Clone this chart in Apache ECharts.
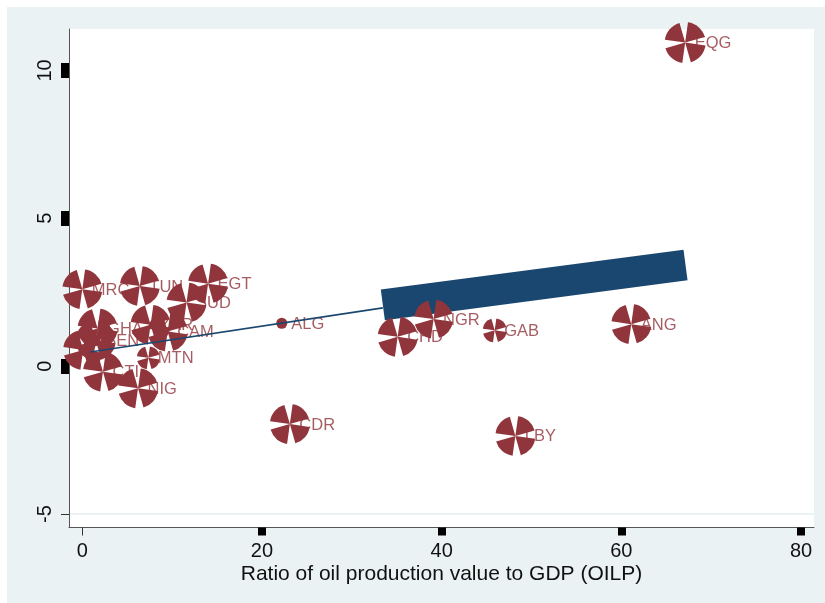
<!DOCTYPE html>
<html>
<head>
<meta charset="utf-8">
<script src="https://cdn.jsdelivr.net/npm/echarts@6/dist/echarts.min.js"></script>
<style>
  html, body { margin: 0; padding: 0; background: #ffffff; }
  #chart { width: 825px; height: 603px; }
</style>
</head>
<body>
<div id="chart"></div>
<script>
// Country codes and their values (one observation near the origin carries no code)
const countries = ['EQG', 'ANG', 'LBY', 'GAB', 'NGR', 'CHD', 'ALG', 'CDR',
  'MRC', 'TUN', 'EGT', 'SUD', 'GHA', '', 'BEN', 'CAM', 'ZAR', 'MTN', 'CTI', 'NIG'];
// Ratio of oil production value to GDP (OILP)
const oilp = [67.1, 61.1, 48.2, 45.9, 39.1, 35.1, 22.2, 23.1,
  0.0, 6.4, 14.0, 11.6, 1.7, 0.1, 1.5, 9.5, 7.6, 7.35, 2.3, 6.2];
// Outcome on the vertical axis
const growth = [10.94, 1.42, -2.36, 1.21, 1.59, 0.99, 1.45, -1.96,
  2.60, 2.71, 2.79, 2.15, 1.27, 0.55, 0.87, 1.17, 1.40, 0.28, -0.19, -0.75];
// Analytic weights of the observations
const weights = [105, 100, 100, 36, 95, 100, 7.6, 100,
  100, 100, 100, 100, 100, 100, 100, 100, 100, 33, 100, 100];

// Fitted line: thin part and heavy part
const fitThinX = [0.9, 33.45];
const fitThinY = [0.48, 1.97];
const fitHeavyX = [33.45, 67.14];
const fitHeavyY = [2.07, 3.42];

// Axis ticks
const xTicks = [0, 20, 40, 60, 80];
const yTicks = [-5, 0, 5, 10];

const maroon = '#90353b';
const navy = '#1a476f';
const bluishGray = '#eaf2f3';
const fontFamily = '"Liberation Sans", Arial, sans-serif';

const points = countries.map((c, i) => ({ name: c, value: [oilp[i], growth[i], weights[i]] }));

// Weighted marker: a disc cut into four petals by wedges meeting at its centre
const PETAL_GAP = 24 * Math.PI / 180;
const PETAL_ROT = -4 * Math.PI / 180;
function renderPetals(params, api) {
  const c = api.coord([api.value(0), api.value(1)]);
  const r = Math.sqrt(api.value(2)) * 2;
  if (r < 7.5) {
    return { type: 'circle', shape: { cx: c[0], cy: c[1], r }, style: { fill: maroon } };
  }
  const children = [];
  for (let i = 0; i < 4; i++) {
    const a0 = PETAL_ROT + i * Math.PI / 2 + PETAL_GAP / 2;
    children.push({
      type: 'sector',
      shape: { cx: c[0], cy: c[1], r0: 0, r, startAngle: a0, endAngle: a0 + Math.PI / 2 - PETAL_GAP, clockwise: true },
      style: { fill: maroon }
    });
  }
  return { type: 'group', children };
}

const X_MIN = -1.48, X_MAX = 81.44, Y_MIN = -5.456, Y_MAX = 11.40;

const baseX = {
  type: 'value', min: X_MIN, max: X_MAX,
  splitLine: { show: false }
};
const baseY = {
  type: 'value', min: Y_MIN, max: Y_MAX
};

const chart = echarts.init(document.getElementById('chart'), null, { renderer: 'canvas' });
chart.setOption({
  animation: false,
  backgroundColor: '#ffffff',
  graphic: [{
    type: 'rect', z: -10, silent: true,
    shape: { x: 7, y: 7, width: 818, height: 596 },
    style: { fill: bluishGray }
  }],
  grid: {
    left: 69, top: 29, right: 11, bottom: 75.5,
    show: true, backgroundColor: '#ffffff', borderWidth: 0
  },
  xAxis: [
    Object.assign({}, baseX, {
      position: 'bottom',
      axisLine: { show: true, onZero: false, lineStyle: { color: '#555555', width: 1 } },
      axisTick: { show: true, customValues: [0], length: 8, lineStyle: { color: '#333333', width: 1 } },
      axisLabel: { customValues: xTicks, margin: 14, color: '#111111', fontSize: 20, fontFamily },
      name: 'Ratio of oil production value to GDP (OILP)',
      nameLocation: 'middle', nameGap: 36, nameMoveOverlap: false,
      nameTextStyle: { color: '#111111', fontSize: 21, fontFamily }
    }),
    Object.assign({}, baseX, {
      position: 'bottom',
      axisLine: { show: false, onZero: false },
      axisTick: { show: true, customValues: xTicks.slice(1), length: 8, lineStyle: { color: '#000000', width: 8 } },
      axisLabel: { show: false }
    })
  ],
  yAxis: [
    Object.assign({}, baseY, {
      position: 'left',
      axisLine: { show: true, onZero: false, lineStyle: { color: '#555555', width: 1 } },
      axisTick: { show: true, customValues: [-5], length: 8, lineStyle: { color: '#333333', width: 1 } },
      axisLabel: { customValues: yTicks, rotate: 90, margin: 14, color: '#111111', fontSize: 20, fontFamily },
      splitLine: { show: true, lineStyle: { color: bluishGray, width: 2 } }
    }),
    Object.assign({}, baseY, {
      position: 'left',
      axisLine: { show: false, onZero: false },
      axisTick: { show: true, customValues: yTicks.slice(1), length: 8, lineStyle: { color: '#000000', width: 15 } },
      axisLabel: { show: false },
      splitLine: { show: false }
    })
  ],
  series: [
    {
      // heavy segment of the fitted line
      type: 'line', z: 2, xAxisIndex: 0, yAxisIndex: 0,
      data: fitHeavyX.map((x, i) => [x, fitHeavyY[i]]),
      symbol: 'none', silent: true,
      lineStyle: { color: navy, width: 31, cap: 'butt' }
    },
    {
      // country labels, placed under the markers
      type: 'scatter', z: 3, xAxisIndex: 0, yAxisIndex: 0,
      data: points, symbol: 'circle', symbolSize: 1,
      itemStyle: { color: 'transparent' }, silent: true,
      label: {
        show: true, position: 'right', distance: 9, offset: [0, 1],
        formatter: p => p.name,
        color: maroon, fontSize: 16.5, fontFamily
      }
    },
    {
      // weighted markers
      type: 'custom', z: 4, xAxisIndex: 0, yAxisIndex: 0,
      data: points.map(p => p.value),
      renderItem: renderPetals, silent: true,
      encode: { x: 0, y: 1 }
    },
    {
      // thin segment of the fitted line
      type: 'line', z: 5, xAxisIndex: 0, yAxisIndex: 0,
      data: fitThinX.map((x, i) => [x, fitThinY[i]]),
      symbol: 'none', silent: true,
      lineStyle: { color: navy, width: 1.6 }
    }
  ]
});
</script>
</body>
</html>
